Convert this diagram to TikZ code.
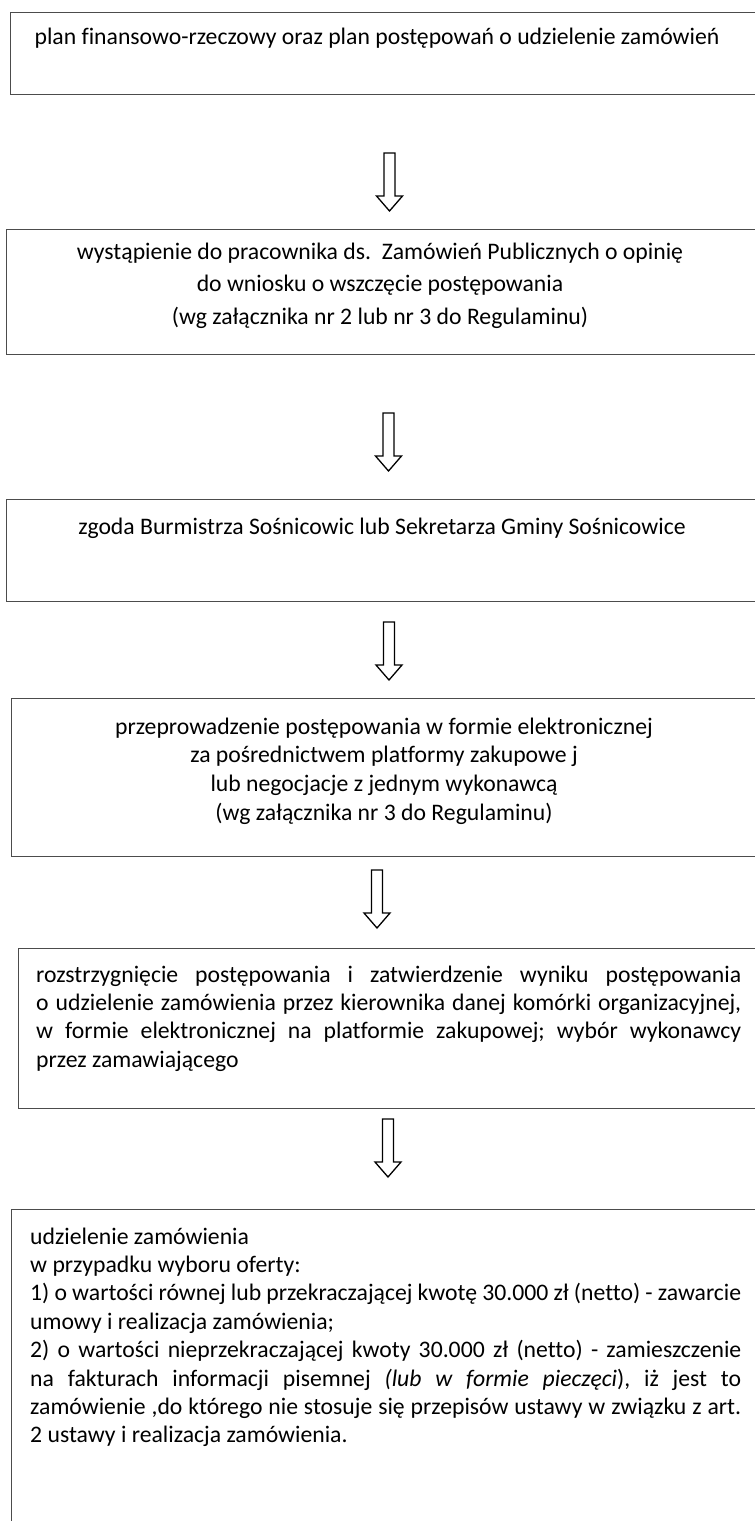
\documentclass[tikz,border=0pt]{standalone}
\usepackage{fontspec}
\setmainfont{Carlito}[Ligatures=CommonOff]
\usetikzlibrary{calc}

\tikzset{
  box/.style={draw=black!70, line width=1.2, minimum width=770, anchor=north west, inner sep=0},
  txt/.style={anchor=base, text width=720, align=flush center, inner sep=0},
  para/.style={anchor=base west, text width=#1, align=justify, inner sep=0,
    execute at begin node={\tolerance=9999\hyphenpenalty=10000\emergencystretch=20pt\relax}},
  downarrow/.pic={\draw[line width=1.3, fill=white, line join=miter]
    (-5.5,-29) -- (-5.5,14) -- (-13,14) -- (0,29) -- (13,14) -- (5.5,14) -- (5.5,-29) -- cycle;}
}

\begin{document}
\frenchspacing
\begin{tikzpicture}[x=1pt, y=-1pt, font=\fontsize{23.7}{28.4}\selectfont]
  \useasboundingbox (0,0) rectangle (755,1521);

  \node[box, minimum height=82] (plan) at (10,12) {};
  \node[txt] (plantxt) at (377,44) {plan finansowo-rzeczowy oraz plan postępowań o udzielenie zamówień};

  \node[box, minimum height=125] (wniosek) at (6,229) {};
  \node[txt, font=\fontsize{23.7}{32.5}\selectfont] (wniosektxt) at (380,259)
    {wystąpienie do pracownika ds.\ \ Zamówień Publicznych o opinię\\
     do wniosku o wszczęcie postępowania\\
     (wg załącznika nr 2 lub nr 3 do Regulaminu)};

  \node[box, minimum height=102] (zgoda) at (6,499) {};
  \node[txt] (zgodatxt) at (382,534) {zgoda Burmistrza Sośnicowic lub Sekretarza Gminy Sośnicowice};

  \node[box, minimum height=158] (postepowanie) at (11,698) {};
  \node[txt, font=\fontsize{23.7}{28.7}\selectfont] (postepowanietxt) at (384,734)
    {przeprowadzenie postępowania w formie elektronicznej\\
     za pośrednictwem platformy zakupowe j\\
     lub negocjacje z jednym wykonawcą\\
     (wg załącznika nr 3 do Regulaminu)};

  \node[box, minimum height=160] (wynik) at (18,948) {};
  \node[para=705] (wyniktxt) at (36,982)
    {rozstrzygnięcie postępowania i zatwierdzenie wyniku postępowania\linebreak
     o udzielenie zamówienia przez kierownika danej komórki organizacyjnej,\linebreak
     w formie elektronicznej na platformie zakupowej; wybór wykonawcy\linebreak
     przez zamawiającego};

  \node[box, minimum height=330] (umowa) at (11,1209) {};
  \node[para=711] (umowatxt) at (30,1244)
    {udzielenie zamówienia\par
     w przypadku wyboru oferty:\par
     1) o wartości równej lub przekraczającej kwotę 30.000 zł (netto) - zawarcie\linebreak
     umowy i realizacja zamówienia;\par
     2) o wartości nieprzekraczającej kwoty 30.000 zł (netto) - zamieszczenie\linebreak
     na fakturach informacji pisemnej \textit{(lub w formie pieczęci}), iż jest to\linebreak
     zamówienie ,do którego nie stosuje się przepisów ustawy w związku z art.\linebreak
     2 ustawy i realizacja zamówienia.};

  \coordinate (a1) at (389.5,182);
  \coordinate (a2) at (388.5,442);
  \coordinate (a3) at (389,651);
  \coordinate (a4) at (377,899);
  \coordinate (a5) at (388,1148);
  \foreach \c in {a1,a2,a3,a4,a5}
    \pic at (\c) {downarrow};
\end{tikzpicture}
\end{document}
